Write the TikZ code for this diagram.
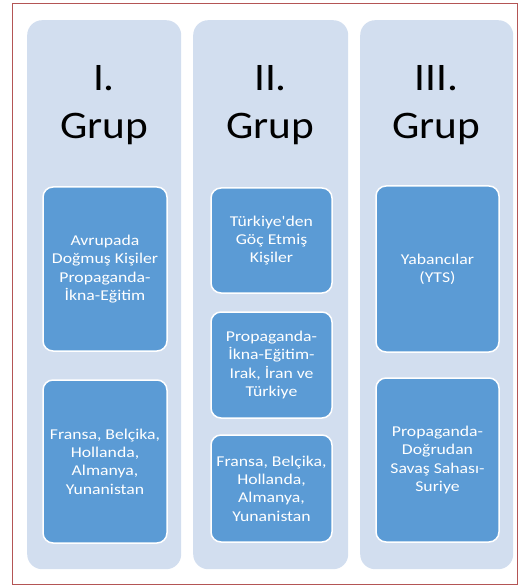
\documentclass[tikz,border=0pt]{standalone}
\usepackage{fontspec}
\setmainfont{Carlito}
\newfontfamily\headfont[FakeStretch=1.11]{Carlito}
\newfontfamily\itemfont[FakeStretch=1.18]{Carlito}
\definecolor{frame}{RGB}{180,85,85}
\definecolor{colbg}{RGB}{210,222,239}
\definecolor{boxbg}{RGB}{91,155,213}
\begin{document}
\begin{tikzpicture}[x=1pt,y=-1pt,
  column/.style={fill=colbg,draw=none,rounded corners=15pt,anchor=north west,inner sep=0pt},
  heading/.style={align=center,font=\headfont\fontsize{39}{48}\selectfont,text=black,inner sep=0pt},
  item/.style={fill=boxbg,draw=white,line width=1.5pt,rounded corners=10pt,inner sep=0pt,
    text=white,align=center,font=\itemfont\fontsize{15}{18.3}\selectfont}]
\useasboundingbox (0,0) rectangle (517,585);
\node[draw=frame,line width=0.9pt,inner sep=0pt,minimum width=505pt,minimum height=581pt,anchor=north west] (frame) at (12,3) {};
% columns
\node[column,minimum width=154pt,minimum height=549pt] (c1) at (27,20) {};
\node[column,minimum width=155pt,minimum height=549pt] (c2) at (193,20) {};
\node[column,minimum width=153pt,minimum height=549pt] (c3) at (360,20) {};
% headings
\node[heading] (h1) at (104,105) {I.\\Grup};
\node[heading] (h2) at (270.5,105) {II.\\Grup};
\node[heading] (h3) at (436.5,105) {III.\\Grup};
% column 1
\node[item,minimum width=124pt,minimum height=164pt] (a1) at (105,269) {Avrupada\\Doğmuş Kişiler\\Propaganda-\\İkna-Eğitim};
\node[item,minimum width=124pt,minimum height=163pt] (a2) at (105,461.5) {Fransa, Belçika,\\Hollanda,\\Almanya,\\Yunanistan};
% column 2
\node[item,minimum width=121pt,minimum height=105pt] (b1) at (271.5,240.5) {Türkiye'den\\Göç Etmiş\\Kişiler};
\node[item,minimum width=121pt,minimum height=106pt] (b2) at (271.5,365) {Propaganda-\\İkna-Eğitim-\\Irak, İran ve\\Türkiye};
\node[item,minimum width=121pt,minimum height=107pt] (b3) at (271.5,488.5) {Fransa, Belçika,\\Hollanda,\\Almanya,\\Yunanistan};
% column 3
\node[item,minimum width=123pt,minimum height=166pt] (d1) at (437.5,269) {Yabancılar\\(YTS)};
\node[item,minimum width=123pt,minimum height=164pt] (d2) at (437.5,460) {Propaganda-\\Doğrudan\\Savaş Sahası-\\Suriye};
\end{tikzpicture}
\end{document}
